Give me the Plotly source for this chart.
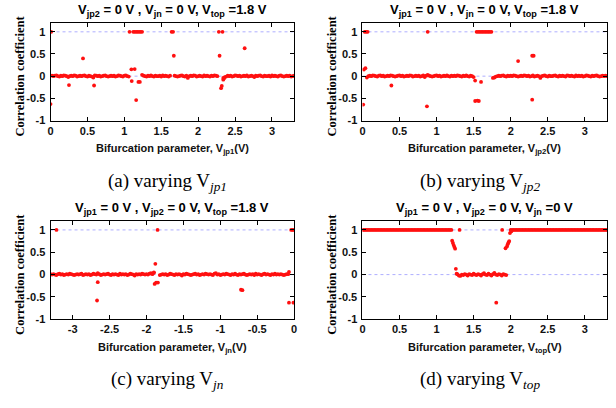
import plotly.graph_objects as go

W, H = 616, 408

# ---- sweep grids (0.02 V step) ----
N = 166
sweep_pos = [round(0.02 * i, 2) for i in range(N)]          # 0 ... 3.30 V
sweep_neg = [round(-3.30 + 0.02 * i, 2) for i in range(N)]  # -3.30 ... 0 V

# ---- (a) varying Vjp1 : correlation along the sweep ----
corr_a = [
    None, 0.01, 0.00, 0.01, 0.02, 0.00, -0.01, 0.01, 0.00, 0.02,
    0.01, 0.00, -0.02, 0.00, 0.01, 0.00, 0.02, 0.01, -0.01, 0.00,
    0.01, 0.00, 0.01, 0.02, 0.00, -0.01, 0.01, 0.00, -0.01, -0.03,
    0.02, 0.01, 0.00, 0.01, -0.01, 0.00, 0.01, 0.02, 0.00, -0.01,
    0.00, 0.01, 0.00, 0.01, -0.01, 0.00, 0.02, 0.01, 0.00, -0.01,
    0.01, 0.02, 0.00, -0.01, None, None, None, None, None, None,
    None, None, 0.03, 0.01, 0.00, -0.01, 0.01, 0.00, 0.02, 0.00,
    -0.01, 0.01, 0.00, 0.00, 0.01, -0.01, 0.02, 0.00, 0.01, 0.00,
    -0.01, 0.01, None, None, 0.01, 0.00, -0.01, 0.00, 0.01, 0.02,
    0.00, -0.01, 0.01, -0.04, 0.00, 0.01, 0.00, 0.02, 0.01, -0.01,
    0.00, 0.01, 0.00, -0.01, 0.02, 0.00, 0.01, 0.00, -0.01, 0.01,
    0.00, 0.02, 0.01, 0.00, None, None, None, -0.04, -0.02, -0.01,
    0.01, 0.00, 0.01, -0.01, 0.00, 0.02, 0.01, 0.00, 0.01, -0.01,
    0.00, 0.01, 0.00, 0.02, -0.01, 0.00, 0.01, 0.00, -0.02, 0.01,
    0.00, 0.01, 0.02, 0.00, -0.01, 0.01, 0.00, 0.00, 0.01, -0.01,
    0.02, 0.00, 0.01, 0.00, -0.01, 0.01, 0.02, 0.00, -0.01, 0.00,
    0.01, 0.00, 0.01, -0.01, 0.00, 0.01,
]
spike_a_x = [0.00, 0.01, 0.25, 0.44, 0.59, 1.07, 1.095, 1.10, 1.12, 1.14, 1.14,
             1.16, 1.16, 1.18, 1.19, 1.20, 1.21, 1.22, 1.24, 1.64, 1.66, 1.67,
             2.28, 2.29, 2.31, 2.32, 2.33, 2.34, 2.35, 2.63]
spike_a_y = [-0.63, 1.00, -0.20, 0.40, -0.21, 1.00, 0.155, -0.11, 1.00, 1.00, 0.16,
             1.00, -0.54, 1.00, -0.13, 1.00, -0.13, 1.00, 1.00, 1.00, 1.00, 0.46,
             1.00, 0.46, -0.27, -0.22, 1.00, -0.08, -0.05, 0.63]

# ---- (b) varying Vjp2 ----
corr_b = [
    None, None, None, -0.03, 0.00, 0.01, 0.00, 0.02, 0.01, 0.00,
    -0.01, 0.01, 0.02, 0.00, 0.01, -0.01, 0.00, 0.01, 0.00, 0.02,
    0.01, 0.00, -0.01, 0.00, 0.01, 0.02, 0.00, 0.01, -0.01, 0.00,
    0.01, 0.00, 0.02, 0.01, -0.01, 0.00, 0.01, 0.00, 0.01, -0.01,
    0.00, 0.02, -0.02, 0.01, 0.03, 0.01, 0.00, -0.01, 0.00, 0.01,
    0.02, 0.00, 0.01, -0.01, 0.00, 0.01, 0.00, 0.02, 0.00, -0.01,
    0.01, 0.00, 0.01, 0.00, 0.02, 0.01, 0.00, -0.01, 0.01, 0.00,
    0.02, 0.00, -0.01, 0.01, 0.00, -0.02, None, None, None, None,
    None, None, None, None, None, None, None, None, -0.04, -0.03,
    -0.01, 0.00, 0.01, 0.00, 0.01, 0.02, 0.00, -0.01, 0.01, 0.00,
    0.01, 0.00, 0.02, 0.01, 0.00, -0.01, 0.00, 0.01, 0.00, 0.02,
    0.01, 0.00, 0.01, -0.01, 0.00, 0.02, -0.01, 0.00, 0.01, 0.00,
    -0.04, 0.00, 0.01, 0.02, 0.00, -0.01, 0.01, 0.00, 0.00, 0.01,
    0.02, 0.00, -0.01, 0.01, 0.00, 0.01, 0.00, -0.01, 0.02, 0.01,
    0.00, 0.01, 0.00, -0.01, 0.02, 0.00, 0.01, 0.00, 0.01, -0.01,
    0.00, 0.02, 0.01, 0.00, -0.01, 0.01, 0.00, 0.01, 0.02, 0.00,
    -0.01, 0.00, 0.01, 0.00, 0.01, 0.00,
]
spike_b_x = [0.01, 0.02, 0.04, 0.03, 0.05, 0.07, 0.39, 0.87, 0.88,
             1.52, 1.52, 1.55, 1.57, 1.60,
             1.54, 1.56, 1.58, 1.60, 1.62, 1.64, 1.66, 1.68, 1.70, 1.72, 1.74,
             2.10, 2.29, 2.31, 2.29]
spike_b_y = [-0.64, 0.15, 0.18, 1.00, 1.00, 1.00, -0.21, -0.68, 1.00,
             -0.10, -0.56, -0.55, -0.56, -0.13,
             1.00, 1.00, 1.00, 1.00, 1.00, 1.00, 1.00, 1.00, 1.00, 1.00, 1.00,
             0.34, 0.46, 0.46, -0.53]

# ---- (c) varying Vjn ----
corr_c = [
    0.01, 0.00, 0.01, 0.00, -0.01, 0.01, 0.02, 0.00, 0.01, -0.01,
    0.00, 0.01, 0.00, 0.02, 0.01, 0.00, -0.01, 0.00, 0.01, 0.00,
    0.01, 0.02, -0.01, 0.00, 0.01, 0.00, 0.01, -0.01, 0.00, 0.02,
    0.01, 0.00, 0.03, 0.01, -0.01, 0.00, 0.01, 0.00, 0.01, 0.02,
    0.00, -0.01, 0.01, 0.00, 0.01, 0.00, -0.01, 0.02, 0.00, 0.01,
    0.00, 0.01, -0.01, 0.00, 0.02, 0.01, 0.00, -0.02, 0.01, 0.00,
    0.01, 0.00, 0.02, 0.01, 0.00, 0.01, 0.00, 0.02, 0.03, 0.01,
    0.04, None, None, None, -0.01, 0.00, 0.01, 0.00, 0.01, -0.01,
    0.00, 0.02, 0.01, 0.00, -0.01, 0.01, 0.00, 0.01, 0.00, -0.02,
    0.01, 0.00, 0.02, 0.01, 0.00, -0.01, 0.00, 0.01, 0.02, 0.00,
    0.01, -0.01, 0.00, 0.01, 0.00, 0.02, 0.01, 0.00, 0.01, 0.00,
    -0.01, 0.02, 0.03, 0.00, 0.01, -0.01, 0.00, 0.01, 0.00, 0.02,
    0.01, 0.00, -0.01, 0.01, 0.00, 0.02, 0.00, -0.01, 0.01, 0.00,
    0.01, 0.02, 0.00, -0.01, 0.00, 0.01, 0.00, 0.01, -0.01, 0.02,
    0.00, 0.01, 0.00, -0.01, 0.01, 0.02, 0.00, 0.01, 0.00, -0.01,
    0.01, 0.00, 0.02, 0.00, 0.01, 0.00, 0.01, 0.00, -0.01, 0.00,
    0.01, 0.01, None, None, None, None,
]
spike_c_x = [-3.22, -2.67, -2.66, -1.90, -1.88, -1.85, -1.89, -1.87, -1.845,
             -0.72, -0.70, -0.07, -0.07, -0.04, -0.02, 0.00, -0.01]
spike_c_y = [1.00, -0.58, -0.17, 0.05, 0.24, 1.00, -0.21, -0.18, -0.18,
             -0.34, -0.35, 0.06, -0.63, 1.00, 1.00, 1.00, -0.63]

# ---- (d) varying Vtop ----
corr_d = (
    [1.00, 1.00, 1.00, 1.00, 1.00, 1.00, 1.00, 1.00, 1.00, 1.00,
     1.00, 1.00, 1.00, 1.00, 1.00, 1.00, 1.00, 1.00, 1.00, 1.00,
     1.00, 1.00, 1.00, 1.00, 1.00, 1.00, 1.00, 1.00, 1.00, 1.00,
     1.00, 1.00, 1.00, 1.00, 1.00, 1.00, 1.00, 1.00, 1.00, 1.00,
     1.00, 1.00, 1.00, 1.00, 1.00, 1.00, 1.00, 1.00, 1.00, 1.00,
     1.00, 1.00, 1.00, 1.00, 1.00, 1.00, 1.00, 1.00, 1.00, 1.00,
     1.00, None, None, None,
     0.01, -0.02, -0.03, 0.00, -0.01, 0.01, 0.00, -0.02, 0.01, 0.00,
     -0.01, 0.02, 0.00, -0.01, 0.01, 0.00, -0.02, 0.01, 0.03, 0.00,
     -0.01, 0.02, 0.00, -0.02, 0.01, 0.04, 0.00, -0.01, 0.01, 0.00,
     -0.02, 0.01, 0.00, -0.01,
     None, None,
     1.00, 1.00, 1.00, 1.00, 1.00, 1.00, 1.00, 1.00, 1.00, 1.00,
     1.00, 1.00, 1.00, 1.00, 1.00, 1.00, 1.00, 1.00, 1.00, 1.00,
     1.00, 1.00, 1.00, 1.00, 1.00, 1.00, 1.00, 1.00, 1.00, 1.00,
     1.00, 1.00, 1.00, 1.00, 1.00, 1.00, 1.00, 1.00, 1.00, 1.00,
     1.00, 1.00, 1.00, 1.00, 1.00, 1.00, 1.00, 1.00, 1.00, 1.00,
     1.00, 1.00, 1.00, 1.00, 1.00, 1.00, 1.00, 1.00, 1.00, 1.00,
     1.00, 1.00, 1.00, 1.00, 1.00, 1.00]
)
spike_d_x = [1.21, 1.22, 1.23, 1.24, 1.25, 1.26, 1.27, 1.31, 1.805, 1.885,
             1.93, 1.95, 1.96, 1.97, 1.98, 1.99, 2.01]
spike_d_y = [0.76, 0.71, 0.66, 0.62, 0.58, 0.13, 0.02, 1.00, -0.63, 1.00,
             0.59, 0.63, 0.68, 0.72, 0.75, 0.93, 0.97]

# ---- text ----
panel_titles = [
    "V<sub>jp2</sub> = 0 V , V<sub>jn</sub> = 0 V, V<sub>top</sub> =1.8 V",
    "V<sub>jp1</sub> = 0 V , V<sub>jn</sub> = 0 V, V<sub>top</sub> =1.8 V",
    "V<sub>jp1</sub> = 0 V , V<sub>jp2</sub> = 0 V, V<sub>top</sub> =1.8 V",
    "V<sub>jp1</sub> = 0 V , V<sub>jp2</sub> = 0 V, V<sub>jn</sub> =0 V",
]
x_titles = [
    "Bifurcation parameter, V<sub>jp1</sub>(V)",
    "Bifurcation parameter, V<sub>jp2</sub>(V)",
    "Bifurcation parameter, V<sub>jn</sub>(V)",
    "Bifurcation parameter, V<sub>top</sub>(V)",
]
captions = [
    "(a) varying V<sub><i>jp1</i></sub>",
    "(b) varying V<sub><i>jp2</i></sub>",
    "(c) varying V<sub><i>jn</i></sub>",
    "(d) varying V<sub><i>top</i></sub>",
]
y_title = "Correlation coefficient"
x_ticks_pos = [0, 0.5, 1, 1.5, 2, 2.5, 3]
x_ticks_neg = [-3, -2.5, -2, -1.5, -1, -0.5, 0]
y_ticks = [-1, -0.5, 0, 0.5, 1]

panels = [
    (sweep_pos, corr_a, spike_a_x, spike_a_y, [0, 3.3], x_ticks_pos),
    (sweep_pos, corr_b, spike_b_x, spike_b_y, [0, 3.3], x_ticks_pos),
    (sweep_neg, corr_c, spike_c_x, spike_c_y, [-3.3, 0], x_ticks_neg),
    (sweep_pos, corr_d, spike_d_x, spike_d_y, [0, 3.3], x_ticks_pos),
]

# ---- geometry (pixels) ----
col_px = [(48, 294), (363, 610)]
row_px = [(23.3, 122.3), (224.3, 324.0)]


def px_x(v):
    return v / W


def px_y(v):
    return 1 - v / H


def fmt(v):
    return "%g" % v


RED = "#ff1010"
SANS = "Liberation Sans, Arial, sans-serif"
SERIF = "Liberation Serif, Times New Roman, serif"

fig = go.Figure()
layout = dict(
    width=W, height=H,
    margin=dict(l=0, r=0, t=0, b=0),
    paper_bgcolor="white", plot_bgcolor="white",
    showlegend=False,
)
annotations = []
shapes = []

for k, (xs, ys, sx, sy, xr, xt) in enumerate(panels):
    r, c = divmod(k, 2)
    x0, x1 = col_px[c]
    yt, yb = row_px[r]
    xa = "xaxis" if k == 0 else f"xaxis{k + 1}"
    ya = "yaxis" if k == 0 else f"yaxis{k + 1}"
    xref = "x" if k == 0 else f"x{k + 1}"
    yref = "y" if k == 0 else f"y{k + 1}"

    # dotted reference levels at 0 and 1
    for lvl in (1, 0):
        shapes.append(dict(type="line", xref=f"{xref} domain", yref=yref,
                           x0=0, x1=1, y0=lvl, y1=lvl,
                           line=dict(color="rgba(120,120,255,0.75)", width=0.8, dash="dot"),
                           layer="below"))

    fig.add_trace(go.Scatter(x=xs, y=ys, mode="markers", xaxis=xref, yaxis=yref,
                             marker=dict(color=RED, size=3.8, line=dict(width=0)),
                             hoverinfo="skip"))
    fig.add_trace(go.Scatter(x=sx, y=sy, mode="markers", xaxis=xref, yaxis=yref,
                             marker=dict(color=RED, size=3.8, line=dict(width=0)),
                             hoverinfo="skip"))

    axis_common = dict(showline=True, linecolor="black", linewidth=1, mirror="ticks",
                       ticks="inside", ticklen=4, tickwidth=0.8, tickcolor="black",
                       showgrid=False, zeroline=False,
                       tickfont=dict(family=SANS, size=11, color="#111111", weight="bold"))
    layout[xa] = dict(axis_common, domain=[px_x(x0), px_x(x1)], range=xr,
                      tickvals=xt, ticktext=[fmt(v) for v in xt], anchor=yref)
    layout[ya] = dict(axis_common, domain=[px_y(yb), px_y(yt)], range=[-1, 1.2],
                      tickvals=y_ticks, ticktext=[fmt(v) for v in y_ticks], anchor=xref,
                      ticklabelstandoff=2)

    cx = (x0 + x1) / 2
    annotations.append(dict(text="<b>" + panel_titles[k] + "</b>", x=px_x(cx), y=px_y(yt - 13),
                            xref="paper", yref="paper", showarrow=False,
                            xanchor="center", yanchor="middle",
                            font=dict(family=SANS, size=13, color="black")))
    annotations.append(dict(text="<b>" + x_titles[k] + "</b>", x=px_x(cx), y=px_y(yb + 29),
                            xref="paper", yref="paper", showarrow=False,
                            xanchor="center", yanchor="middle",
                            font=dict(family=SANS, size=11, color="#111111")))
    annotations.append(dict(text=captions[k], x=px_x(cx - 5), y=px_y(yb + 62),
                            xref="paper", yref="paper", showarrow=False,
                            xanchor="center", yanchor="middle",
                            font=dict(family=SERIF, size=19, color="black")))
    annotations.append(dict(text="<b>" + y_title + "</b>", x=px_x(x0 - 31), y=px_y((yt + yb) / 2 + 4),
                            xref="paper", yref="paper", showarrow=False, textangle=-90,
                            xanchor="center", yanchor="middle",
                            font=dict(family=SERIF, size=12.5, color="black")))

layout["annotations"] = annotations
layout["shapes"] = shapes
fig.update_layout(**layout)
fig.write_html("out.html")
